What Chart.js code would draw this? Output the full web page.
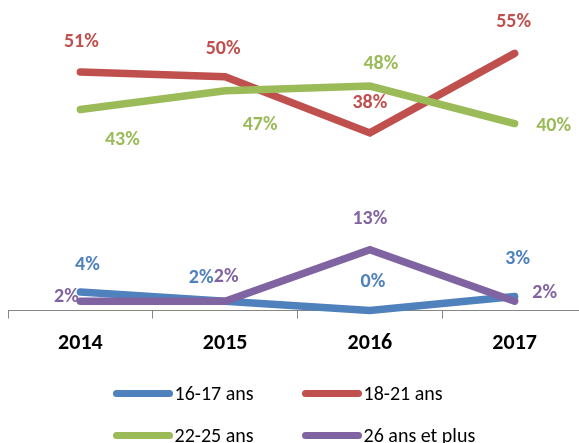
<!DOCTYPE html>
<html>
<head>
<meta charset="utf-8">
<script src="https://cdn.jsdelivr.net/npm/chart.js@4.4.0/dist/chart.umd.min.js"></script>
<style>
    html, body { margin: 0; padding: 0; background: #fff; overflow: hidden; }
    #wrap { position: relative; width: 600px; height: 443px; }
</style>
</head>
<body>
<div id="wrap"><canvas id="chart"></canvas></div>
<script>
// chart values
const years = ['2014', '2015', '2016', '2017'];
const seriesNames = ['16-17 ans', '18-21 ans', '22-25 ans', '26 ans et plus'];
const ages1617 = [4, 2, 0, 3];
const ages1821 = [51, 50, 38, 55];
const ages2225 = [43, 47, 48, 40];
const ages26plus = [2, 2, 13, 2];

const seriesColors = ['#4F81BD', '#C0504D', '#9BBB59', '#8064A2'];

// where each value label sits relative to its point (dx, dy)
const labelOffsets = [
    [[7, -27], [-24, -23], [3, -29], [3, -38]],
    [[1, -30], [-2, -28], [0, -30], [-1, -31]],
    [[42, 30], [35, 34], [11, -22], [39, 2]],
    [[-14, -4], [1, -24], [0, -31], [30, -8]]
];

const FONT = 'Carlito, Lato, "Open Sans", sans-serif';

const valueLabels = {
    id: 'valueLabels',
    afterDatasetsDraw(chart) {
        const ctx = chart.ctx;
        ctx.save();
        ctx.font = 'bold 20px ' + FONT;
        ctx.textAlign = 'center';
        ctx.textBaseline = 'middle';
        chart.data.datasets.forEach((ds, i) => {
            const meta = chart.getDatasetMeta(i);
            ctx.fillStyle = ds.borderColor;
            meta.data.forEach((pt, j) => {
                const off = labelOffsets[i][j];
                ctx.fillText(ds.data[j] + '%', pt.x + off[0], pt.y + off[1]);
            });
        });
        ctx.restore();
    }
};

// two-column legend under the axis
const gridLegend = {
    id: 'gridLegend',
    afterDraw(chart) {
        const ctx = chart.ctx;
        const area = chart.chartArea;
        const mid = (area.left + area.right) / 2;
        const colX = [mid - 184, mid + 5];
        const rowY = [area.bottom + 83, area.bottom + 125];
        ctx.save();
        ctx.font = '20px ' + FONT;
        ctx.textBaseline = 'middle';
        ctx.textAlign = 'left';
        chart.data.datasets.forEach((ds, i) => {
            const x = colX[i % 2];
            const y = rowY[Math.floor(i / 2)];
            ctx.strokeStyle = ds.borderColor;
            ctx.lineWidth = 7;
            ctx.lineCap = 'round';
            ctx.beginPath();
            ctx.moveTo(x + 3, y);
            ctx.lineTo(x + 56, y);
            ctx.stroke();
            ctx.fillStyle = '#000';
            ctx.fillText(ds.label, x + 61, y + 1);
        });
        ctx.restore();
    }
};

const seriesValues = [ages1617, ages1821, ages2225, ages26plus];
const drawOrder = [3, 2, 1, 0];

new Chart(document.getElementById('chart'), {
    type: 'line',
    data: {
        labels: years,
        datasets: seriesValues.map((vals, i) => ({
            label: seriesNames[i],
            data: vals,
            borderColor: seriesColors[i],
            backgroundColor: seriesColors[i],
            borderWidth: 7.5,
            borderCapStyle: 'round',
            borderJoinStyle: 'miter',
            pointRadius: 0,
            tension: 0,
            clip: false,
            order: drawOrder[i]
        }))
    },
    options: {
        responsive: true,
        maintainAspectRatio: false,
        animation: false,
        layout: { padding: { left: 8, right: 13, top: 30, bottom: 74 } },
        plugins: {
            legend: { display: false },
            tooltip: { enabled: false }
        },
        scales: {
            x: {
                offset: true,
                grid: {
                    offset: true,
                    drawOnChartArea: false,
                    drawTicks: true,
                    tickLength: 8,
                    color: '#868686'
                },
                border: { display: true, color: '#868686', width: 1 },
                ticks: {
                    color: '#000',
                    padding: 12,
                    font: { family: FONT, size: 22, weight: 'bold' }
                }
            },
            y: { display: false, min: 0, max: 60 }
        }
    },
    plugins: [valueLabels, gridLegend]
});
</script>
</body>
</html>
